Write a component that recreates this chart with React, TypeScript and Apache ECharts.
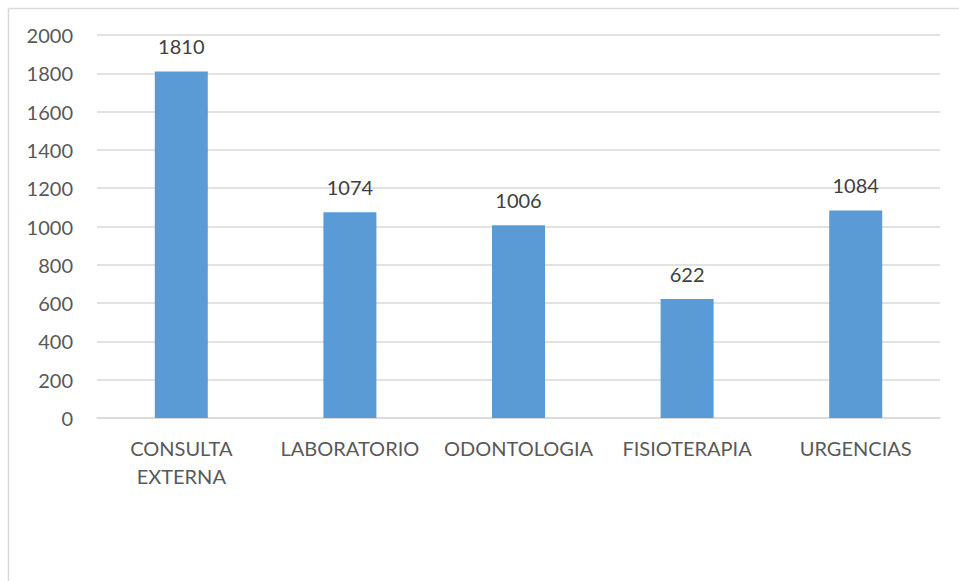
import React, { useEffect, useRef } from "react";
import * as echarts from "echarts";

const categories = ["CONSULTA\nEXTERNA", "LABORATORIO", "ODONTOLOGIA", "FISIOTERAPIA", "URGENCIAS"];
const values = [1810, 1074, 1006, 622, 1084];
const yMin = 0;
const yMax = 2000;
const yInterval = 200;

const FONT = "Lato, 'Noto Sans', sans-serif";

export default function App() {
  const ref = useRef<HTMLDivElement>(null);
  useEffect(() => {
    if (!ref.current) return;
    const chart = echarts.init(ref.current, undefined, { renderer: "svg" });
    chart.setOption({
      animation: false,
      backgroundColor: "#ffffff",
      textStyle: { fontFamily: FONT },
      graphic: [
        { type: "line", shape: { x1: 8.5, y1: 8.5, x2: 959, y2: 8.5 }, style: { stroke: "#d9d9d9", lineWidth: 1.5 } },
        { type: "line", shape: { x1: 8.5, y1: 8.5, x2: 8.5, y2: 581 }, style: { stroke: "#d9d9d9", lineWidth: 1.5 } },
      ],
      grid: { left: 97, right: 19, top: 35, bottom: 163, containLabel: false },
      xAxis: {
        type: "category",
        data: categories,
        axisLine: { show: true, lineStyle: { color: "#d9d9d9", width: 1.5 } },
        axisTick: { show: false },
        axisLabel: {
          color: "#595959",
          fontSize: 20,
          fontFamily: FONT,
          margin: 16,
          lineHeight: 28,
          interval: 0,
        },
      },
      yAxis: {
        type: "value",
        min: yMin,
        max: yMax,
        interval: yInterval,
        axisLine: { show: false },
        axisTick: { show: false },
        splitLine: { lineStyle: { color: "#d9d9d9", width: 1.5 } },
        axisLabel: {
          color: "#595959",
          fontSize: 20,
          fontFamily: FONT,
          margin: 24,
          formatter: (v: number) => String(v),
        },
      },
      series: [
        {
          type: "bar",
          data: values,
          barWidth: 53,
          itemStyle: { color: "#5b9bd5" },
          label: {
            show: true,
            position: "top",
            distance: 15,
            color: "#404040",
            fontSize: 20,
            fontFamily: FONT,
          },
        },
      ],
    });
    return () => chart.dispose();
  }, []);
  return (
    <div
      ref={ref}
      style={{ position: "absolute", left: 0, top: 0, width: 959, height: 581 }}
    />
  );
}
